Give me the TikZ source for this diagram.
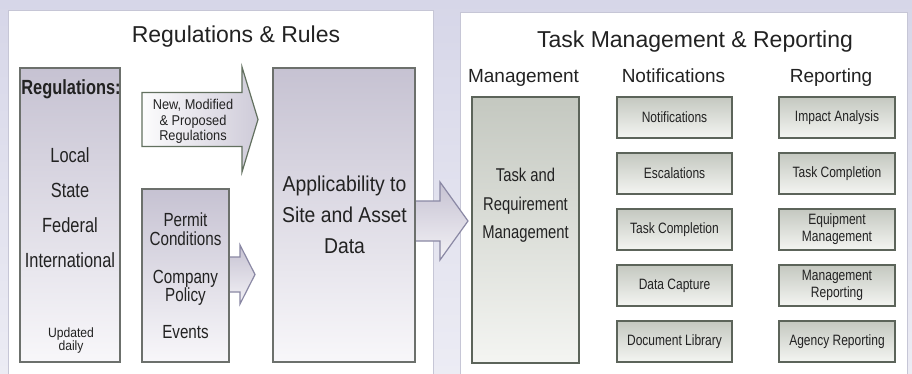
\documentclass[tikz,border=0pt]{standalone}
\usepackage{fontspec}
\setmainfont{Liberation Sans}
\newfontfamily\narrowsf[FakeStretch=0.8]{Liberation Sans}
\newfontfamily\semisf[FakeStretch=0.9]{Liberation Sans}
\usetikzlibrary{calc}

\definecolor{bgtop}{HTML}{D6D6E8}
\definecolor{bgbot}{HTML}{ECECF4}
\definecolor{panelline}{HTML}{C6C6D6}
\definecolor{lavtop}{HTML}{C6C2D2}
\definecolor{lavbot}{HTML}{F8F7FA}
\definecolor{boxline}{HTML}{6C706C}
\definecolor{greentop}{HTML}{C4C8C0}
\definecolor{greenbot}{HTML}{F4F5F2}
\definecolor{greenline}{HTML}{5C645A}
\definecolor{arrowline}{HTML}{8A88A4}
\definecolor{regline}{HTML}{62705F}
\definecolor{inktext}{HTML}{222222}

\newcommand{\fs}[2]{\fontsize{#1}{#2}\selectfont}
% block arrow: style, x start, x head, x tip, y centre, body half, head half
\newcommand{\blockarrow}[7]{%
  \shade[#1] (#2,{#5-#6}) -- (#3,{#5-#6}) -- (#3,{#5-#7}) -- (#4,#5)
    -- (#3,{#5+#7}) -- (#3,{#5+#6}) -- (#2,{#5+#6}) -- cycle;}

\tikzset{
  panel/.style={draw=panelline, fill=white, line width=0.8pt},
  txt/.style={text=inktext, inner sep=0pt},
  title/.style={txt, font=\fs{23}{27}},
  colhead/.style={txt, font=\fs{19}{22}},
  leftbox/.style={draw=boxline, line width=1.2pt, top color=lavtop, bottom color=lavbot, inner sep=0pt},
  rightbox/.style={draw=greenline, line width=1.4pt, top color=greentop, bottom color=greenbot,
    inner sep=0pt, align=center, text=inktext, font=\narrowsf\fs{15}{17}},
  regarrow/.style={draw=regline, line width=1.2pt, left color=white!95!lavtop, right color=lavtop!85!white},
  flowarrow/.style={draw=arrowline, line width=1.2pt, top color=lavtop, bottom color=lavbot!90!lavtop}
}

\begin{document}
\begin{tikzpicture}[x=1pt,y=-1pt]
\useasboundingbox (0,0) rectangle (912,374);
\shade[top color=bgtop, bottom color=bgbot] (0,0) rectangle (912,374);

% panels
\draw[panel] (8,10) rectangle (433,378);
\draw[panel] (460,12) rectangle (907,378);

\node[title, anchor=base] (regtitle) at (236,43) {Regulations \& Rules};
\node[title, anchor=base] (tasktitle) at (695,48) {Task Management \& Reporting};

% arrows
\blockarrow{regarrow}{142}{242}{258}{119.5}{27}{52.5}
\blockarrow{flowarrow}{229}{240}{255}{274.5}{17.5}{29.5}
\blockarrow{flowarrow}{415}{440}{468}{221}{20}{39}

% regulations and rules
\node[leftbox, minimum width=100, minimum height=294] (regs) at (70,215) {};
\node[leftbox, minimum width=87, minimum height=173] (permit) at (185.5,275.5) {};
\node[leftbox, minimum width=142, minimum height=294] (applic) at (344,215) {};

\node[txt, font=\narrowsf\bfseries\fs{20.5}{24}, anchor=base] (regshead) at (71,95) {Regulations:};
\foreach \lvl [count=\i] in {Local,State,Federal,International}
  \node[txt, font=\narrowsf\fs{20.5}{24}, anchor=base] (lvl\i) at (70,{128.3+34.7*\i}) {\lvl};
\node[txt, font=\semisf\fs{13.5}{13}, anchor=north, align=center] (updated) at (71,328) {Updated\\daily};

\node[txt, font=\semisf\fs{14.2}{15.5}, anchor=north, align=center] (newregs) at (193,99.5) {New, Modified\\\& Proposed\\Regulations};

\node[txt, font=\narrowsf\fs{19}{19}, anchor=north, align=center] (permittxt) at (185.5,213) {Permit\\Conditions};
\node[txt, font=\narrowsf\fs{19}{18.5}, anchor=north, align=center] (policytxt) at (185.5,270) {Company\\Policy};
\node[txt, font=\narrowsf\fs{19}{19}, anchor=base] (events) at (185.5,338) {Events};

\node[txt, font=\semisf\fs{21.5}{31}, anchor=north, align=center] (applictxt) at (344.5,176) {Applicability to\\Site and Asset\\Data};

% task management and reporting
\node[colhead, anchor=base] (mgmt) at (523.5,83) {Management};
\node[colhead, anchor=base] (notif) at (673.5,83) {Notifications};
\node[colhead, anchor=base] (report) at (831,83) {Reporting};

\node[rightbox, minimum width=107, minimum height=266] (task) at (525.5,230) {};
\node[txt, font=\narrowsf\fs{18.5}{28.5}, anchor=north, align=center] (tasktxt) at (525.5,168) {Task and\\Requirement\\Management};

\foreach \lbl [count=\i] in {Notifications,Escalations,Task Completion,Data Capture,Document Library}
  \node[rightbox, minimum width=115, minimum height=41] (n\i) at (674.5,{61.5+56*\i}) {\lbl};
\foreach \lbl [count=\i] in {Impact Analysis,Task Completion,Equipment\\Management,Management\\Reporting,Agency Reporting}
  \node[rightbox, minimum width=116, minimum height=41] (r\i) at (837,{61.5+56*\i}) {\lbl};
\end{tikzpicture}
\end{document}
